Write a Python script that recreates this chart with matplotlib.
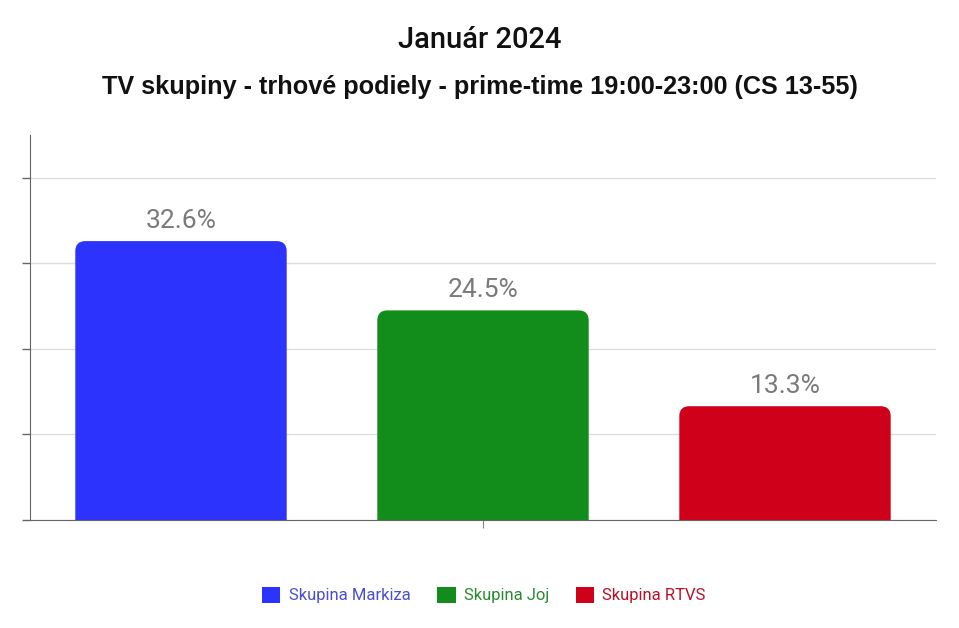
import matplotlib.pyplot as plt
from matplotlib.patches import FancyBboxPatch, Patch

groups = ["Skupina Markiza", "Skupina Joj", "Skupina RTVS"]
shares = [32.6, 24.5, 13.3]
colors = ["#2b33fd", "#128c1a", "#cf0019"]
text_colors = ["#4a4fd0", "#2a8a32", "#b8122a"]

plt.rcParams['font.family'] = ['Roboto', 'DejaVu Sans']

fig = plt.figure(figsize=(9.59, 6.28), dpi=100)
ax = fig.add_axes([30 / 959, 108 / 628, 906 / 959, 385 / 628])

x = [0.5, 1.5, 2.5]
width = 0.7
ymax = 45
ax.set_xlim(0, 3)
ax.set_ylim(0, ymax)

# rounded top corners: the patch goes below 0 and is clipped by the axes
x_per_px = 3 / 906
y_per_px = ymax / 385
r = 10 * x_per_px
for xi, val, c in zip(x, shares, colors):
    box = FancyBboxPatch((xi - width / 2, -3), width, val + 3,
                         boxstyle=f"round,pad=0,rounding_size={r}",
                         mutation_aspect=y_per_px / x_per_px,
                         facecolor=c, edgecolor="none", zorder=3)
    ax.add_patch(box)
    ax.annotate(f"{val}%", (xi, val), xytext=(0, 6), textcoords="offset points",
                ha="center", va="bottom", fontsize=19, color="#7a7a7a")

ax.set_yticks([0, 10, 20, 30, 40])
ax.set_yticklabels([])
ax.set_xticks([1.5])
ax.set_xticklabels([])
ax.tick_params(axis="y", length=6, color="#666666", width=1)
ax.tick_params(axis="x", length=6, color="#888888", width=0.8)
ax.yaxis.grid(True, color="#dddddd", linewidth=1)
ax.set_axisbelow(True)
for s in ["top", "right"]:
    ax.spines[s].set_visible(False)
ax.spines["left"].set_color("#666666")
ax.spines["bottom"].set_color("#666666")

fig.text(0.5, 1 - 40 / 628, "Január 2024", ha="center", va="center",
         fontsize=21, fontweight="medium", color="#111111")
fig.text(0.5, 1 - 87 / 628, "TV skupiny - trhové podiely - prime-time 19:00-23:00 (CS 13-55)",
         ha="center", va="center", fontsize=18.2, fontweight="bold",
         family=["Liberation Sans", "DejaVu Sans"], color="#111111")

handles = [Patch(facecolor=c, edgecolor="none") for c in colors]
leg = fig.legend(handles, groups, loc="center", bbox_to_anchor=(484 / 959, 1 - 595 / 628),
                 ncol=3, frameon=False, fontsize=12, handlelength=1.1, handleheight=1.1,
                 handletextpad=0.5, columnspacing=1.6)
for t, tc in zip(leg.get_texts(), text_colors):
    t.set_color(tc)

fig.savefig("out.png", dpi=100)
